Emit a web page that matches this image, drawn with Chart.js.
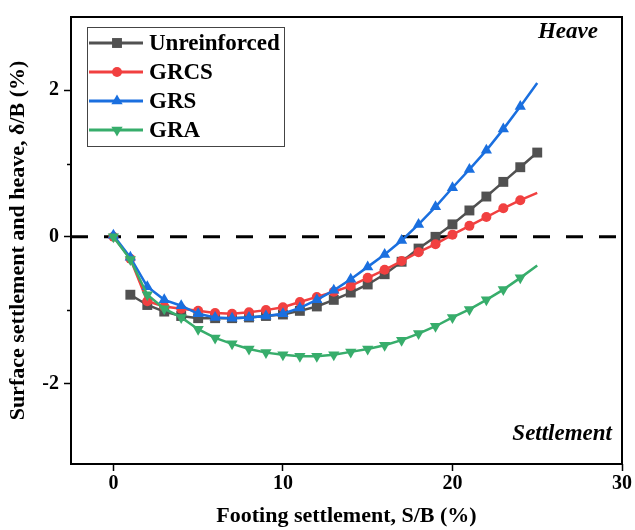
<!DOCTYPE html>
<html>
<head>
<meta charset="utf-8">
<script src="https://cdn.jsdelivr.net/npm/chart.js@4.4.0/dist/chart.umd.min.js"></script>
<style>
  html, body { margin: 0; padding: 0; background: #fff; }
</style>
</head>
<body>
<canvas id="chart" width="635" height="530"></canvas>
<script>
// footing settlement S/B (%)
const settlement = [0, 1, 2, 3, 4, 5, 6, 7, 8, 9, 10, 11, 12, 13, 14, 15, 16, 17, 18, 19, 20, 21, 22, 23, 24, 25];

// surface settlement / heave δ/B (%)
const unreinforced = [null, -0.79, -0.93, -1.02, -1.08, -1.11, -1.11, -1.11, -1.10, -1.08, -1.06, -1.01, -0.95, -0.86, -0.76, -0.65, -0.51, -0.34, -0.16, 0.00, 0.17, 0.36, 0.55, 0.75, 0.95, 1.15];
const grcs = [0, -0.30, -0.88, -0.95, -0.98, -1.01, -1.04, -1.05, -1.03, -1.00, -0.96, -0.89, -0.82, -0.75, -0.67, -0.56, -0.45, -0.33, -0.21, -0.10, 0.03, 0.15, 0.27, 0.39, 0.50, 0.60];
const grs = [0.02, -0.28, -0.68, -0.86, -0.94, -1.05, -1.10, -1.11, -1.10, -1.08, -1.05, -0.97, -0.86, -0.73, -0.58, -0.41, -0.24, -0.05, 0.17, 0.41, 0.67, 0.92, 1.18, 1.47, 1.78, 2.10];
const gra = [0, -0.31, -0.79, -0.98, -1.10, -1.26, -1.38, -1.46, -1.53, -1.58, -1.61, -1.63, -1.63, -1.61, -1.57, -1.53, -1.48, -1.41, -1.32, -1.22, -1.10, -0.99, -0.86, -0.72, -0.56, -0.39];

const seriesNames = ['Unreinforced', 'GRCS', 'GRS', 'GRA'];
const xTicks = [0, 10, 20, 30];
const yTicks = [-2, 0, 2];
const yMinorTicks = [-1, 1];

const FONT = "'Liberation Serif', 'Times New Roman', serif";
Chart.defaults.font.family = FONT;

const toPoints = arr => settlement.map((s, i) => ({ x: s, y: arr[i] }));
// markers on every point except the final one (line runs on to the end)
const skipLast = (arr, r) => arr.map((_, i) => i === arr.length - 1 ? 0 : r);

const styles = [
  { color: '#515151', pointStyle: 'rect', radius: 7, rotation: 0, data: unreinforced, order: 4, radii: null },
  { color: '#F14040', pointStyle: 'circle', radius: 5, rotation: 0, data: grcs, order: 3, radii: skipLast(grcs, 5) },
  { color: '#1A6FDF', pointStyle: 'triangle', radius: 6.5, rotation: 0, data: grs, order: 2, radii: skipLast(grs, 6.5) },
  { color: '#37AD6B', pointStyle: 'triangle', radius: 6.5, rotation: 180, data: gra, order: 1, radii: skipLast(gra, 6.5) }
];

const datasets = styles.map((s, i) => ({
  label: seriesNames[i],
  data: toPoints(s.data),
  borderColor: s.color,
  backgroundColor: s.color,
  borderWidth: 2.5,
  pointStyle: s.pointStyle,
  pointRotation: s.rotation,
  pointRadius: s.radii || s.radius,
  pointBorderWidth: 0,
  pointBackgroundColor: s.color,
  order: s.order,
  tension: 0,
  spanGaps: false
}));

/* dashed zero line under the curves */
const zeroLine = {
  id: 'zeroLine',
  beforeDatasetsDraw(chart) {
    const { ctx, chartArea, scales: { y } } = chart;
    const yPos = y.getPixelForValue(0);
    ctx.save();
    ctx.beginPath();
    ctx.setLineDash([17, 16]);
    ctx.lineWidth = 3;
    ctx.strokeStyle = '#000';
    ctx.moveTo(chartArea.left, yPos);
    ctx.lineTo(chartArea.right, yPos);
    ctx.stroke();
    ctx.restore();
  }
};

/* frame, minor ticks, Heave/Settlement notes, legend */
const decorations = {
  id: 'decorations',
  afterDraw(chart) {
    const { ctx, chartArea: a, scales: { y } } = chart;
    ctx.save();

    ctx.strokeStyle = '#000';
    ctx.lineWidth = 2;
    ctx.strokeRect(a.left, a.top, a.right - a.left, a.bottom - a.top);

    ctx.lineWidth = 1.5;
    yMinorTicks.forEach(v => {
      const p = Math.round(y.getPixelForValue(v)) + 0.5;
      ctx.beginPath();
      ctx.moveTo(a.left - 4, p);
      ctx.lineTo(a.left, p);
      ctx.stroke();
    });

    ctx.fillStyle = '#000';
    ctx.font = 'italic bold 23px ' + FONT;
    ctx.textAlign = 'right';
    ctx.textBaseline = 'middle';
    ctx.fillText('Heave', a.right - 24, 32);
    ctx.fillText('Settlement', a.right - 10, 434);

    // legend
    const bx = 87, by = 27, bw = 197, bh = 119, rowH = 29;
    ctx.fillStyle = '#fff';
    ctx.fillRect(bx, by, bw, bh);
    ctx.strokeStyle = '#444';
    ctx.lineWidth = 1;
    ctx.strokeRect(bx + 0.5, by + 0.5, bw, bh);

    chart.data.datasets.forEach((ds, i) => {
      const ry = by + 16 + i * rowH;
      ctx.strokeStyle = ds.borderColor;
      ctx.lineWidth = 3;
      ctx.beginPath();
      ctx.moveTo(bx + 2, ry);
      ctx.lineTo(bx + 56, ry);
      ctx.stroke();
      ctx.fillStyle = ds.borderColor;
      Chart.helpers.drawPoint(ctx, {
        pointStyle: ds.pointStyle,
        rotation: ds.pointRotation,
        radius: styles[i].radius,
        borderWidth: 0
      }, bx + 30, ry);
      ctx.fillStyle = '#000';
      ctx.font = 'bold 23px ' + FONT;
      ctx.textAlign = 'left';
      ctx.fillText(ds.label, bx + 62, ry + 1);
    });

    ctx.restore();
  }
};

new Chart(document.getElementById('chart'), {
  type: 'line',
  data: { datasets },
  options: {
    responsive: false,
    animation: false,
    layout: { padding: { top: 11, right: 13, left: 0, bottom: 0 } },
    plugins: { legend: { display: false }, tooltip: { enabled: false } },
    scales: {
      x: {
        type: 'linear',
        min: -2.5,
        max: 30,
        afterBuildTicks: s => { s.ticks = xTicks.map(v => ({ value: v })); },
        afterFit: s => { s.height = 66; },
        grid: { drawOnChartArea: false, tickLength: 7, tickColor: '#000', tickWidth: 1.5 },
        border: { display: false },
        ticks: { color: '#000', font: { size: 20, weight: 'bold' }, padding: 1, maxRotation: 0 },
        title: {
          display: true,
          text: 'Footing settlement, S/B (%)',
          color: '#000',
          font: { size: 22, weight: 'bold' },
          padding: { top: 0, bottom: 0 }
        }
      },
      y: {
        type: 'linear',
        min: -3.1,
        max: 3,
        afterBuildTicks: s => { s.ticks = yTicks.map(v => ({ value: v })); },
        afterFit: s => { s.width = 71; },
        grid: { drawOnChartArea: false, tickLength: 7, tickColor: '#000', tickWidth: 1.5 },
        border: { display: false },
        ticks: { color: '#000', font: { size: 20, weight: 'bold' }, padding: 5 },
        title: {
          display: true,
          text: 'Surface settlement and heave, δ/B (%)',
          color: '#000',
          font: { size: 22, weight: 'bold' },
          padding: { top: 5, bottom: 0 }
        }
      }
    }
  },
  plugins: [zeroLine, decorations]
});
</script>
</body>
</html>
